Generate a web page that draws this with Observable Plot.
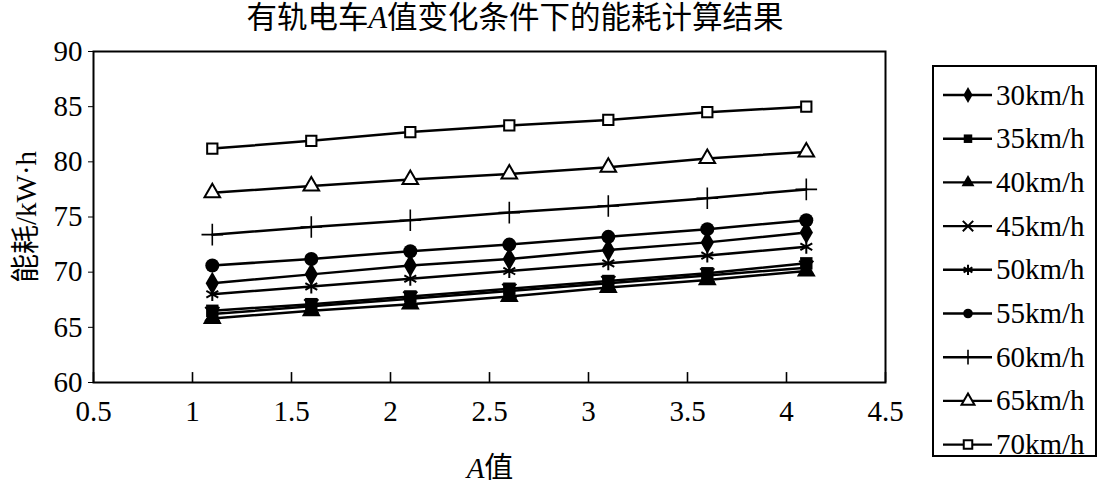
<!DOCTYPE html>
<html>
<head>
<meta charset="utf-8">
<script src="https://cdn.jsdelivr.net/npm/d3@7"></script>
<script src="https://cdn.jsdelivr.net/npm/@observablehq/plot@0.6"></script>
<style>
  body { margin: 0; background: #fff; }
  #wrap { position: relative; width: 1100px; height: 496px; overflow: hidden; font-family: "Liberation Serif", "Noto Sans CJK SC", serif; color: #000; }
  #title { position: absolute; left: 0; width: 1030px; top: 1px; text-align: center; font-size: 30.5px; line-height: 34px; }
  #xtitle { position: absolute; left: 390px; width: 200px; top: 452px; text-align: center; font-size: 29px; line-height: 32px; }
  #chart { position: absolute; left: 0; top: 0; }
  #legend { position: absolute; left: 932px; top: 65px; }
</style>
</head>
<body>
<div id="wrap">
  <div id="chart"></div>
  <div id="title">有轨电车<i>A</i>值变化条件下的能耗计算结果</div>
  <div id="xtitle"><i>A</i>值</div>
  <div id="legend"></div>
</div>
<script>
// ---- data ----
const aValues = [1.1, 1.6, 2.1, 2.6, 3.1, 3.6, 4.1];
const seriesNames = ["30km/h", "35km/h", "40km/h", "45km/h", "50km/h", "55km/h", "60km/h", "65km/h", "70km/h"];
const s30 = [69.0, 69.8, 70.6, 71.2, 72.0, 72.7, 73.6];
const s35 = [66.5, 67.1, 67.8, 68.5, 69.2, 69.9, 70.8];
const s40 = [65.8, 66.5, 67.1, 67.8, 68.6, 69.3, 70.1];
const s45 = [66.2, 66.9, 67.6, 68.3, 69.0, 69.7, 70.4];
const s50 = [68.0, 68.7, 69.4, 70.1, 70.8, 71.5, 72.3];
const s55 = [70.6, 71.2, 71.9, 72.5, 73.2, 73.9, 74.7];
const s60 = [73.4, 74.1, 74.7, 75.4, 76.0, 76.7, 77.5];
const s65 = [77.2, 77.8, 78.4, 78.9, 79.5, 80.3, 80.9];
const s70 = [81.2, 81.9, 82.7, 83.3, 83.8, 84.5, 85.0];
const xTicks = [0.5, 1, 1.5, 2, 2.5, 3, 3.5, 4, 4.5];
const yTicks = [60, 65, 70, 75, 80, 85, 90];

const seriesValues = [s30, s35, s40, s45, s50, s55, s60, s65, s70];
// marker styles per series
const styles = [
  {symbol: "diamond", fill: "black", stroke: "none", r: 7},
  {symbol: "square", fill: "black", stroke: "none", r: 7},
  {symbol: "triangle", fill: "black", stroke: "none", r: 7},
  {symbol: "times", fill: "none", stroke: "black", r: 6.5, sw: 2},
  {symbol: "asterisk", fill: "none", stroke: "black", r: 6.5, sw: 2},
  {symbol: "circle", fill: "black", stroke: "none", r: 7},
  {symbol: "plus", fill: "none", stroke: "black", r: 7, sw: 1.6},
  {symbol: "triangle", fill: "white", stroke: "black", r: 5.8, sw: 2},
  {symbol: "square", fill: "white", stroke: "black", r: 5.8, sw: 2}
];

const table = [];
seriesNames.forEach((name, i) => {
  aValues.forEach((a, j) => table.push({series: name, a, e: seriesValues[i][j]}));
});

const font = '"Liberation Serif", "Noto Sans CJK SC", serif';

const marks = [
  Plot.frame({stroke: "black", strokeWidth: 2}),
  Plot.axisY({ticks: yTicks, tickSize: 5, tickPadding: 6, fontSize: 29, fontFamily: font, label: "能耗/kW·h", labelAnchor: "center", labelOffset: 78, labelArrow: "none"}),
  Plot.axisX({ticks: xTicks, tickSize: 0, tickPadding: 18, fontSize: 29, fontFamily: font, tickFormat: d => String(d), label: null}),
  Plot.ruleX(xTicks, {x: d => d, y1: 60, y2: 60.9, stroke: "black", strokeWidth: 1.6}),
  Plot.line(table, {x: "a", y: "e", z: "series", stroke: "black", strokeWidth: 2.5})
];
seriesNames.forEach((name, i) => {
  const st = styles[i];
  marks.push(Plot.dot(table.filter(d => d.series === name), {
    x: "a", y: "e", symbol: () => st.symbol, r: st.r,
    fill: st.fill, stroke: st.stroke, strokeWidth: st.sw || 1
  }));
});

const chart = Plot.plot({
  width: 1100,
  height: 496,
  marginTop: 51,
  marginBottom: 114,
  marginLeft: 93,
  marginRight: 215,
  style: {fontFamily: font, fontSize: "29px", color: "black", background: "white"},
  x: {domain: [0.5, 4.5]},
  y: {domain: [60, 90]},
  symbol: {type: "identity"},
  marks
});
document.getElementById("chart").appendChild(chart);

// ---- legend ----
const symMap = {
  diamond: d3.symbolDiamond, square: d3.symbolSquare, triangle: d3.symbolTriangle,
  times: d3.symbolTimes, asterisk: d3.symbolAsterisk, circle: d3.symbolCircle, plus: d3.symbolPlus
};
const lw = 166, boxH = 392, rowStep = 43.7, row0 = 30;
const lsvg = d3.select("#legend").append("svg").attr("width", lw).attr("height", boxH + 12)
  .attr("font-family", font).style("overflow", "visible");
lsvg.append("rect").attr("x", 1).attr("y", 1).attr("width", lw - 3).attr("height", boxH - 2)
  .attr("fill", "white").attr("stroke", "black").attr("stroke-width", 2);
seriesNames.forEach((name, i) => {
  const st = styles[i];
  const g = lsvg.append("g").attr("transform", `translate(0,${row0 + i * rowStep})`);
  g.append("line").attr("x1", 11).attr("x2", 60).attr("y1", 0).attr("y2", 0)
    .attr("stroke", "black").attr("stroke-width", 2.4);
  const size = Math.PI * 4.8 * 4.8;
  g.append("path").attr("transform", "translate(36,0)")
    .attr("d", d3.symbol(symMap[st.symbol], size)())
    .attr("fill", st.fill).attr("stroke", st.stroke).attr("stroke-width", st.sw || 1);
  g.append("text").attr("x", 64).attr("y", 0).attr("dy", "0.33em")
    .attr("font-family", font).attr("font-size", 29).text(name);
});
</script>
</body>
</html>
